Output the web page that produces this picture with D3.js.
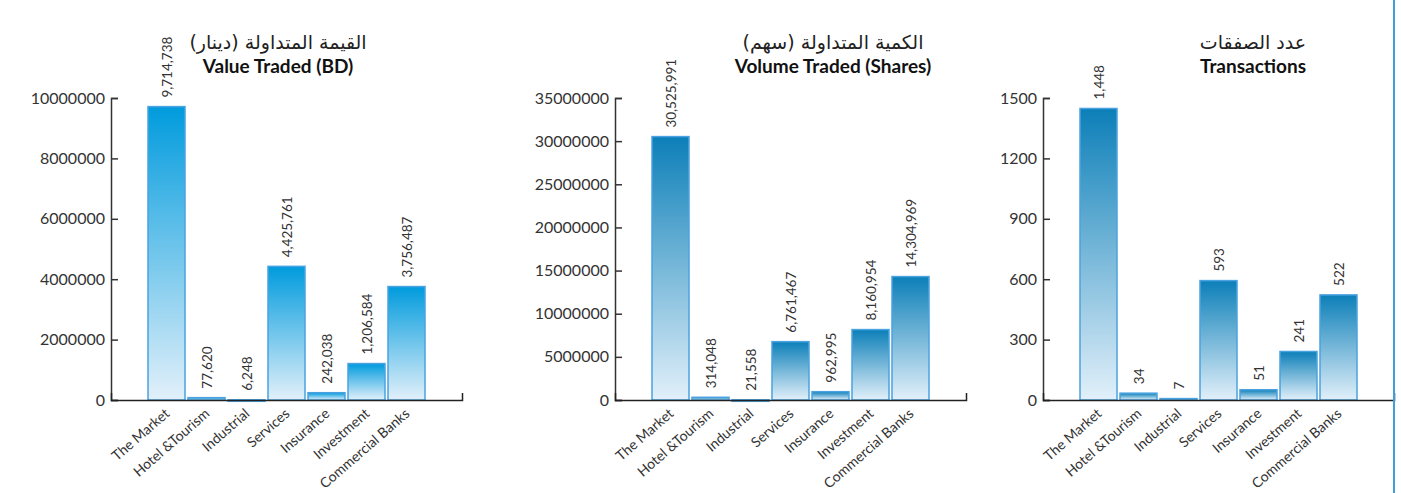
<!DOCTYPE html>
<html>
<head>
<meta charset="utf-8">
<script src="https://cdn.jsdelivr.net/npm/d3@7"></script>
<style>
  body { margin: 0; background: #fff; }
  svg { display: block; }
  .tick text { font-family: Lato, "Open Sans", sans-serif; font-size: 16px; fill: #333; }
</style>
</head>
<body>
<svg id="chart" width="1401" height="493"></svg>
<script>
// categories shared by all three panels
const sectors = ["The Market", "Hotel &Tourism", "Industrial", "Services", "Insurance", "Investment", "Commercial Banks"];

const valueTraded = [9714738, 77620, 6248, 4425761, 242038, 1206584, 3756487];
const volumeTraded = [30525991, 314048, 21558, 6761467, 962995, 8160954, 14304969];
const transactions = [1448, 34, 7, 593, 51, 241, 522];

const valueTicks = [0, 2000000, 4000000, 6000000, 8000000, 10000000];
const volumeTicks = [0, 5000000, 10000000, 15000000, 20000000, 25000000, 30000000, 35000000];
const transTicks = [0, 300, 600, 900, 1200, 1500];

const titlesAr = ["القيمة المتداولة (دينار)", "الكمية المتداولة (سهم)", "عدد الصفقات"];
const titlesEn = ["Value Traded (BD)", "Volume Traded (Shares)", "Transactions"];

let svg = d3.select("#chart");
let defs = svg.append("defs");

// gradient per panel, top colour -> pale bottom
function gradient(id, topColor) {
    let g = defs.append("linearGradient").attr("id", id)
        .attr("x1", 0).attr("y1", 0).attr("x2", 0).attr("y2", 1);
    g.append("stop").attr("offset", "0%").attr("stop-color", topColor);
    g.append("stop").attr("offset", "100%").attr("stop-color", "#e2f0fa");
}
gradient("g1", "#009bdd");
gradient("g2", "#0c7fb8");

let plotW = 351, plotH = 302, plotTop = 98;

function drawPanel(left, titleX, values, ticks, maxV, grad, arT, enT) {
    let g = svg.append("g").attr("transform", "translate(" + left + "," + plotTop + ")");

    let x = d3.scaleBand().domain(sectors).range([0, plotW])
        .paddingInner(0.075).paddingOuter(0.925);
    let y = d3.scaleLinear().domain([0, maxV]).range([plotH, 0]);

    // y axis, ticks point inward
    let yAxis = d3.axisLeft(y).tickValues(ticks).tickFormat(d3.format("d"))
        .tickSize(-7).tickPadding(6);
    let ya = g.append("g").call(yAxis);
    ya.selectAll("path, line").attr("stroke", "#333").attr("stroke-width", 1.5);

    // bars
    g.selectAll("rect").data(values).enter().append("rect")
        .attr("x", (d, i) => x(sectors[i]))
        .attr("y", d => y(d))
        .attr("width", x.bandwidth())
        .attr("height", d => Math.max(plotH - y(d), 1.5))
        .attr("fill", "url(#" + grad + ")")
        .attr("stroke", "#4aa3e0")
        .attr("stroke-width", 1.5);

    // x axis
    let xAxis = d3.axisBottom(x).tickSize(0).tickSizeOuter(-7).tickPadding(0);
    let xa = g.append("g")
        .attr("transform", "translate(0," + plotH + ")")
        .call(xAxis);
    xa.select(".domain").attr("stroke", "#222").attr("stroke-width", 1.5);
    xa.selectAll("text")
        .style("font-family", "Lato, 'Open Sans', sans-serif")
        .style("font-size", "14px")
        .style("fill", "#333")
        .attr("text-anchor", "end")
        .attr("dy", 0)
        .attr("transform", "translate(4,15) rotate(-41)");

    // value labels
    g.selectAll(".val").data(values).enter().append("text")
        .attr("class", "val")
        .attr("transform", (d, i) => "translate(" + (x(sectors[i]) + x.bandwidth() / 2 + 5) + "," + (y(d) - 9) + ") rotate(-90)")
        .style("font-family", "Lato, 'Open Sans', sans-serif")
        .style("font-size", "13.5px")
        .style("fill", "#333")
        .text(d => d3.format(",")(d));

    // titles
    svg.append("text")
        .attr("x", titleX).attr("y", 49)
        .attr("text-anchor", "middle")
        .attr("direction", "rtl")
        .style("font-family", "'DejaVu Sans', sans-serif")
        .style("font-size", "19px")
        .style("fill", "#222")
        .text(arT);
    svg.append("text")
        .attr("x", titleX).attr("y", 73)
        .attr("text-anchor", "middle")
        .style("font-family", "Lato, 'Open Sans', sans-serif")
        .style("font-weight", "bold")
        .style("font-size", "19px")
        .style("fill", "#111")
        .text(enT);
}

drawPanel(111, 278, valueTraded, valueTicks, 10000000, "g1", titlesAr[0], titlesEn[0]);
drawPanel(615, 833, volumeTraded, volumeTicks, 35000000, "g2", titlesAr[1], titlesEn[1]);
drawPanel(1043, 1253, transactions, transTicks, 1500, "g2", titlesAr[2], titlesEn[2]);

// page border line at right
svg.append("line")
    .attr("x1", 1394).attr("x2", 1394).attr("y1", 0).attr("y2", 493)
    .attr("stroke", "#3f9fdd").attr("stroke-width", 2);
</script>
</body>
</html>
